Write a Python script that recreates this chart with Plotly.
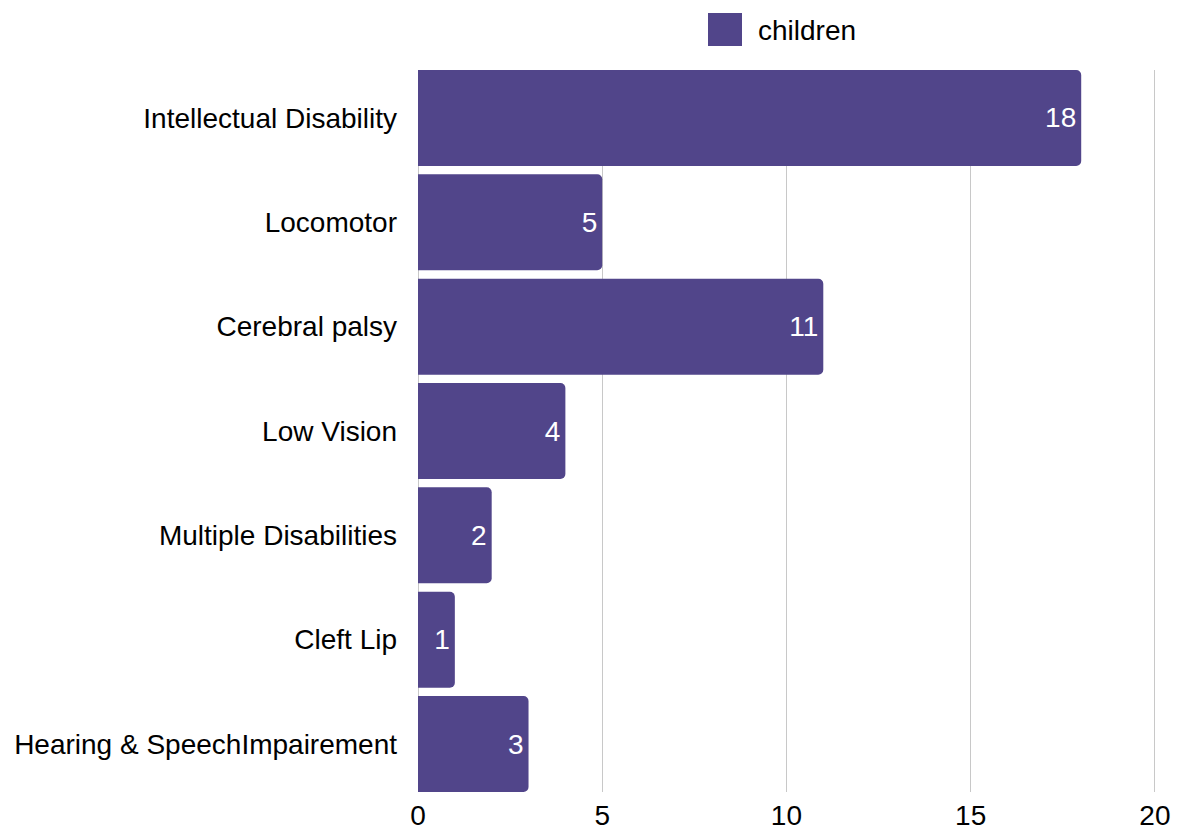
import plotly.graph_objects as go

categories = ["Intellectual Disability", "Locomotor", "Cerebral palsy", "Low Vision",
              "Multiple Disabilities", "Cleft Lip", "Hearing & SpeechImpairement"]
values = [18, 5, 11, 4, 2, 1, 3]
series_name = "children"
x_ticks = [0, 5, 10, 15, 20]

color = "#51458A"
font = "Liberation Sans, Arial, Helvetica, sans-serif"
fs = 28

# page has 8px body margin; compensate
W, H = 1166, 823
L, T = 410, 62
PW, PH = 738, 722

def px(x):  # window x -> paper
    return (x - 8 - L) / PW

def py(y):  # window y -> paper
    return 1 - (y - 8 - T) / PH

fig = go.Figure()
fig.add_trace(go.Bar(
    y=categories, x=values, orientation="h", name=series_name,
    marker=dict(color=color, line=dict(width=0)),
    text=[str(v) for v in values], textposition="inside", insidetextanchor="end",
    textfont=dict(color="white", size=fs, family=font),
    showlegend=False,
))

fig.update_layout(
    width=W, height=H,
    margin=dict(l=L, r=W - L - PW, t=T, b=H - T - PH, pad=0),
    paper_bgcolor="white", plot_bgcolor="white",
    bargap=0.08, barcornerradius=5,
    font=dict(family=font, size=fs, color="black"),
    xaxis=dict(range=[0, 20.03], tickvals=x_ticks, showgrid=True, gridcolor="#c8c8c8",
               gridwidth=1, zeroline=True, zerolinecolor="#c8c8c8", zerolinewidth=1,
               showline=False, ticks="", ticklabelstandoff=4, automargin=False,
               tickfont=dict(size=fs, color="black")),
    yaxis=dict(range=[6.46, -0.46], showgrid=False, zeroline=False, showline=False,
               ticks="", ticklabelstandoff=20, automargin=False,
               tickfont=dict(size=fs, color="black")),
    shapes=[dict(type="rect", xref="paper", yref="paper",
                 x0=px(708), x1=px(742), y0=py(46), y1=py(13),
                 fillcolor=color, line=dict(width=0))],
    annotations=[dict(text=series_name, xref="paper", yref="paper",
                      x=px(756), y=py(30),
                      xanchor="left", yanchor="middle", showarrow=False,
                      font=dict(size=fs, color="black", family=font))],
)

fig.write_html("out.html")
